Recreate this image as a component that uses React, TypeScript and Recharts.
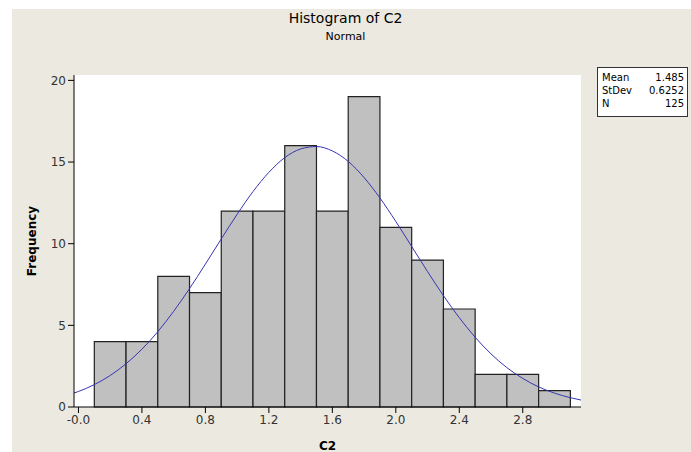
import {
  ComposedChart,
  Line,
  ReferenceArea,
  XAxis,
  YAxis,
} from "recharts";

// histogram bins (C2), width 0.2
const binStarts = [0.1, 0.3, 0.5, 0.7, 0.9, 1.1, 1.3, 1.5, 1.7, 1.9, 2.1, 2.3, 2.5, 2.7, 2.9];
const binEnds = [0.3, 0.5, 0.7, 0.9, 1.1, 1.3, 1.5, 1.7, 1.9, 2.1, 2.3, 2.5, 2.7, 2.9, 3.1];
const counts = [4, 4, 8, 7, 12, 12, 16, 12, 19, 11, 9, 6, 2, 2, 1];

// fitted normal curve
const curveX = [
  -0.03, 0.0, 0.1, 0.2, 0.3, 0.4, 0.5, 0.6, 0.7, 0.8, 0.9, 1.0, 1.1, 1.2, 1.3, 1.4, 1.5,
  1.6, 1.7, 1.8, 1.9, 2.0, 2.1, 2.2, 2.3, 2.4, 2.5, 2.6, 2.7, 2.8, 2.9, 3.0, 3.1, 3.17,
];
const curveY = [
  0.85, 0.95, 1.37, 1.93, 2.65, 3.54, 4.61, 5.86, 7.25, 8.75, 10.29, 11.8, 13.19, 14.37,
  15.27, 15.8, 15.95, 15.68, 15.04, 14.05, 12.8, 11.36, 9.83, 8.29, 6.82, 5.47, 4.27, 3.25,
  2.41, 1.75, 1.23, 0.85, 0.57, 0.42,
];

const xTicks = [0, 0.4, 0.8, 1.2, 1.6, 2.0, 2.4, 2.8];
const yTicks = [0, 5, 10, 15, 20];

const statLabels = ["Mean", "StDev", "N"];
const statValues = ["1.485", "0.6252", "125"];

const FONT = "Tahoma, 'DejaVu Sans', sans-serif";
const BG = "#ECE9E0";

const curve = curveX.map((x, i) => ({ x, y: curveY[i] }));

const formatX = (v: number) => (v === 0 ? "-0.0" : v.toFixed(1));

export default function App() {
  return (
    <div style={{ position: "fixed", inset: 0, background: BG, fontFamily: FONT }}>
      {/* white strips on the left and top edges */}
      <div style={{ position: "absolute", left: 0, top: 0, width: 12, bottom: 0, background: "#fff" }} />
      <div style={{ position: "absolute", left: 0, top: 0, right: 0, height: 9, background: "#fff" }} />

      <div style={{ position: "absolute", left: 12, top: 9 }}>
        <ComposedChart
          width={679}
          height={443}
          data={curve}
          margin={{ top: 66, right: 110, bottom: 5, left: 22 }}
        >
          <XAxis
            xAxisId={0}
            dataKey="x"
            type="number"
            domain={[-0.028, 3.167]}
            allowDataOverflow
            ticks={xTicks}
            tickFormatter={formatX}
            tick={{ fontSize: 12, fill: "#333", fontFamily: FONT }}
            tickLine={{ stroke: "#000" }}
            axisLine={{ stroke: "#000" }}
            tickSize={6}
            height={40}
            label={{
              value: "C2",
              position: "insideBottom",
              offset: -3,
              style: { fontSize: 12, fontWeight: "bold", fill: "#000", fontFamily: FONT },
            }}
          />
          <XAxis
            xAxisId="top"
            orientation="top"
            type="number"
            domain={[-0.028, 3.167]}
            allowDataOverflow
            tick={false}
            tickLine={false}
            axisLine={{ stroke: "#000" }}
            height={0}
          />
          <YAxis
            yAxisId={0}
            type="number"
            domain={[0, 20.33]}
            allowDataOverflow
            ticks={yTicks}
            tick={{ fontSize: 12, fill: "#333", fontFamily: FONT }}
            tickLine={{ stroke: "#000" }}
            axisLine={{ stroke: "#000" }}
            tickSize={6}
            width={40}
            label={{
              value: "Frequency",
              angle: -90,
              position: "insideLeft",
              offset: -2,
              style: { textAnchor: "middle", fontSize: 12, fontWeight: "bold", fill: "#000", fontFamily: FONT },
            }}
          />
          <YAxis
            yAxisId="right"
            orientation="right"
            type="number"
            domain={[0, 20.33]}
            tick={false}
            tickLine={false}
            axisLine={{ stroke: "#000" }}
            width={0}
          />
          <ReferenceArea
            x1={-0.028}
            x2={3.167}
            y1={0}
            y2={20.33}
            fill="#fff"
            fillOpacity={1}
            stroke="none"
          />
          {counts.map((c, i) => (
            <ReferenceArea
              key={i}
              x1={binStarts[i]}
              x2={binEnds[i]}
              y1={0}
              y2={c}
              fill="#C0C0C0"
              fillOpacity={1}
              stroke="#222"
              strokeWidth={1.2}
            />
          ))}
          <Line
            dataKey="y"
            type="monotone"
            stroke="#3535B5"
            strokeWidth={1}
            dot={false}
            activeDot={false}
            isAnimationActive={false}
          />
        </ComposedChart>
      </div>

      <div
        style={{
          position: "absolute",
          left: 0,
          width: 691,
          top: 10,
          textAlign: "center",
          fontSize: 14,
          color: "#000",
        }}
      >
        Histogram of C2
      </div>
      <div
        style={{
          position: "absolute",
          left: 0,
          width: 691,
          top: 30,
          textAlign: "center",
          fontSize: 11,
          color: "#000",
        }}
      >
        Normal
      </div>

      <div
        style={{
          position: "absolute",
          left: 597,
          top: 67,
          width: 91,
          height: 50,
          background: "#fff",
          border: "1px solid #333",
          fontSize: 10,
          color: "#000",
          boxSizing: "border-box",
          padding: "3px 3px 0 4px",
        }}
      >
        {statLabels.map((s, i) => (
          <div key={s} style={{ display: "flex", justifyContent: "space-between", lineHeight: "13px" }}>
            <span>{s}</span>
            <span>{statValues[i]}</span>
          </div>
        ))}
      </div>
    </div>
  );
}
